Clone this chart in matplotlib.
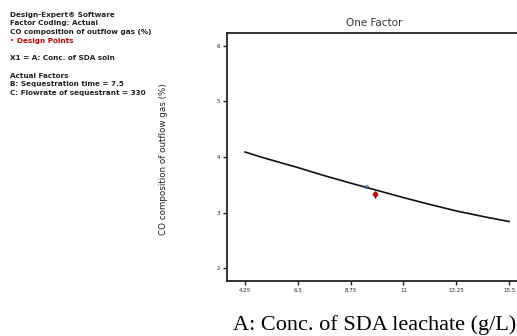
import numpy as np
import matplotlib.pyplot as plt

# predicted response along factor A
conc = [4.25, 5.0, 6.0, 6.5, 7.5, 8.75, 9.7, 11.0, 12.0, 13.25, 14.5, 15.5]
co_pred = [4.09, 3.99, 3.87, 3.81, 3.68, 3.53, 3.42, 3.27, 3.16, 3.03, 2.92, 2.84]

# design point
pt_conc = [9.79]
pt_co = [3.33]

xticks = [4.25, 6.5, 8.75, 11, 13.25, 15.5]
xticklabels = ["4.25", "6.5", "8.75", "11", "13.25", "15.5"]
yticks = [2, 3, 4, 5, 6]

info_lines = [
    ("Design-Expert\u00ae Software", 15),
    ("Factor Coding: Actual", 23),
    ("CO composition of outflow gas (%)", 32),
    ("X1 = A: Conc. of SDA soln", 58),
    ("Actual Factors", 76),
    ("B: Sequestration time = 7.5", 84),
    ("C: Flowrate of sequestrant = 330", 93),
]

W, H = 517, 336
fig = plt.figure(figsize=(W / 100, H / 100), dpi=100)
ax = fig.add_axes([227 / W, (H - 281) / H, (522 - 227) / W, (281 - 33) / H])

ax.plot(conc, co_pred, color="#111111", lw=1.2)
ax.errorbar(pt_conc, pt_co, yerr=0.06, fmt="o", color="#cc0000", ms=2.8,
            ecolor="black", elinewidth=1, capsize=0, zorder=3)
ax.text(9.42, 3.46, "2", color="#3366cc", fontsize=4.5, ha="center",
        va="center", weight="bold")

ax.set_xlim(3.48, 16.05)
ax.set_ylim(1.77, 6.23)
ax.set_xticks(xticks, labels=xticklabels)
ax.set_yticks(yticks)
ax.tick_params(labelsize=4, length=3, width=1, pad=2, colors="#222222")
for s in ax.spines.values():
    s.set_linewidth(1.3)
    s.set_color("#222222")
ax.set_title("One Factor", fontsize=7.5, color="#333333", pad=5)
ax.set_ylabel("CO composition of outflow gas (%)", fontsize=6.3,
              color="#222222")
ax.yaxis.set_label_coords((168 - 227) / (522 - 227), 0.49)

fig.text(233 / W, 1 - 325 / H, "A: Conc. of SDA leachate (g/L)",
         fontsize=16, family="Liberation Serif", ha="left", va="center")

for txt, y in info_lines:
    fig.text(10 / W, 1 - y / H, txt, fontsize=5.2, color="#222222",
             weight="bold", ha="left", va="center")
fig.text(10 / W, 1 - 41 / H, "\u2022", fontsize=5.2, color="#cc0000",
         ha="left", va="center")
fig.text(17 / W, 1 - 41 / H, "Design Points", fontsize=5.2, color="#cc0000",
         weight="bold", ha="left", va="center")

fig.savefig("out.png", dpi=100)
